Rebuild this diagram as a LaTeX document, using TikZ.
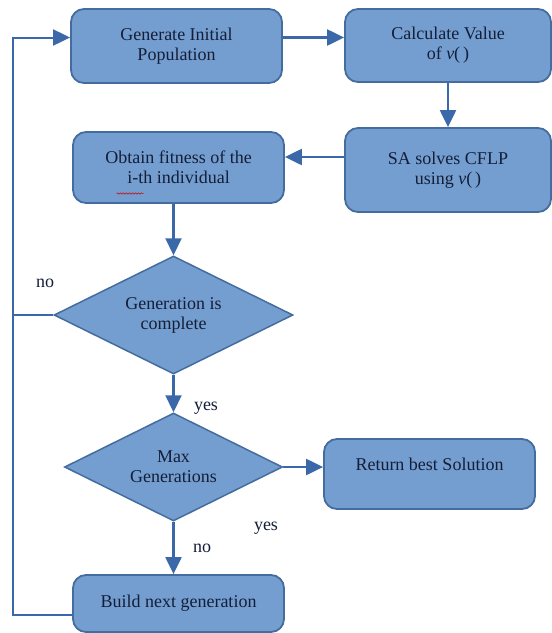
\documentclass[tikz,border=0pt]{standalone}
\usepackage{fontspec}
\setmainfont{Liberation Serif}
\usetikzlibrary{shapes.geometric}
\usetikzlibrary{arrows.meta}
\usetikzlibrary{decorations.pathmorphing}

\definecolor{boxfill}{RGB}{116,158,208}
\definecolor{boxline}{RGB}{68,108,158}
\definecolor{flowblue}{RGB}{58,104,168}
\definecolor{textnavy}{RGB}{20,30,56}

\begin{document}
\begin{tikzpicture}[x=1pt,y=-1pt,
		procbox/.style={draw=boxline,line width=1.8pt,fill=boxfill,rounded corners=13pt,
			align=center,text=textnavy,font=\fontsize{18}{20}\selectfont},
		decision/.style={diamond,aspect=2,inner sep=0pt,draw=boxline,line width=1.5pt,fill=boxfill,
			align=center,text=textnavy,font=\fontsize{18}{20}\selectfont},
		flow/.style={draw=flowblue,line width=2.2pt,-{Triangle[length=17pt,width=16pt]}},
		rail/.style={draw=flowblue,line width=2pt},
		tag/.style={text=textnavy,font=\fontsize{18}{20}\selectfont}]
		\useasboundingbox (0,0) rectangle (552,633);
		\node[procbox,minimum width=211pt,minimum height=74pt] (init) at (176.5,46) {Generate Initial\\Population};
		\node[procbox,minimum width=206pt,minimum height=73pt] (calc) at (448,45.5) {Calculate Value\\of \textit{v}(\,)};
		\node[procbox,minimum width=206pt,minimum height=84pt] (sa) at (448,170) {SA solves CFLP\\using \textit{v}(\,)};
		\node[procbox,minimum width=211pt,minimum height=71pt] (fit) at (178.5,167.5) {Obtain fitness of the\\i-th individual};
		\node[decision,minimum width=239pt,minimum height=118pt] (gencomp) at (173.5,315) {Generation is\\complete};
		\node[decision,minimum width=218pt,minimum height=108pt] (maxgen) at (173.5,467) {Max\\Generations};
		\node[procbox,minimum width=211pt,minimum height=70pt] (best) at (429.5,474) {Return best Solution\\\mbox{}};
		\node[procbox,minimum width=211pt,minimum height=57pt] (build) at (178.5,603.5) {Build next generation};
		\coordinate (railtop) at (12.5,37.5);
		\coordinate (railbot) at (12.5,615);
		% spell-check squiggle under i-th
		\draw[red!80!black,line width=0.5pt,decorate,decoration={snake,amplitude=0.7pt,segment length=3pt}]
			([xshift=-62pt,yshift=-26pt]fit.center) -- ([xshift=-35pt,yshift=-26pt]fit.center);
		\draw[flow] ([yshift=8.5pt]init.east) -- ([yshift=8.5pt]init.east -| calc.west);
		\draw[flow] (calc.south) -- (sa.north);
		\draw[flow] ([yshift=13pt]sa.west) -- ([yshift=13pt]sa.west -| fit.east);
		\draw[flow] (fit.south -| gencomp.north) -- (gencomp.north);
		\draw[flow] (gencomp.south) -- (maxgen.north);
		\draw[flow] (maxgen.east) -- (maxgen.east -| best.west);
		\draw[flow] (maxgen.south) -- (maxgen.south |- build.north);
		\draw[rail] (gencomp.west) -- (gencomp.west -| railtop);
		\draw[flow,line width=2pt] (railbot -| build.west) -- (railbot) -- (railtop) -- (railtop -| init.west);
		\node[tag] (noA) at (45,283) {no};
		\node[tag] (yesA) at (206,408) {yes};
		\node[tag] (yesB) at (266,528) {yes};
		\node[tag] (noB) at (202,548) {no};
	\end{tikzpicture}
\end{document}
